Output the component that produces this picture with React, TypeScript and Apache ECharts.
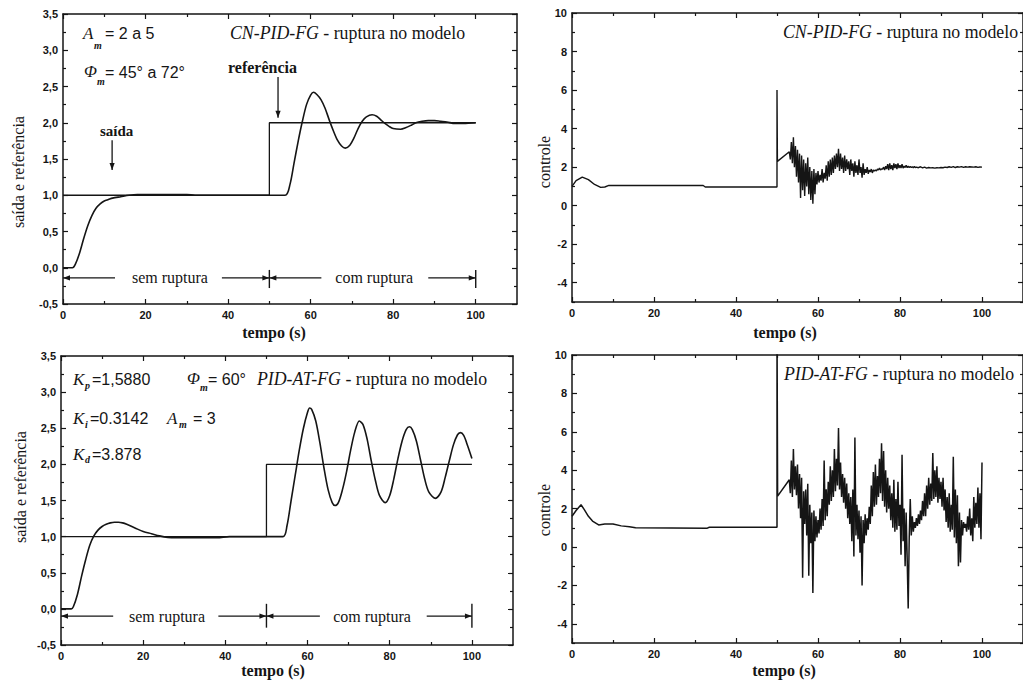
import React, { useEffect, useRef } from "react";
import * as echarts from "echarts";

// ---- axis ticks ----
const timeMajor = [0, 20, 40, 60, 80, 100];
const timeMinor = [10, 30, 50, 70, 90];
const outMajor = [-0.5, 0, 0.5, 1, 1.5, 2, 2.5, 3, 3.5];
const outMinor = [-0.25, 0.25, 0.75, 1.25, 1.75, 2.25, 2.75, 3.25];
const ctlMajor = [-4, -2, 0, 2, 4, 6, 8, 10];
const ctlMinor = [-5, -3, -1, 1, 3, 5, 7, 9];

// ---- reference signal (both output plots) ----
const refTime = [0, 50, 50, 100];
const refValue = [1, 1, 2, 2];

// ---- CN-PID-FG output (saída) ----
const out1Time = [0, 2.3, 3, 4, 5, 6, 7, 8, 9, 10, 11, 12, 14, 16, 18, 30, 32, 53.8, 55, 56, 57, 58, 59, 60, 60.7, 61.5, 62.5, 63.5, 64.5, 65.5, 66.5, 67.5, 68.4, 69.5, 70.5, 71.5, 72.5, 73.5, 74.9, 76, 77, 78, 79, 80, 81.8, 83, 84.5, 85.5, 87, 88.5, 90, 91.5, 93, 95, 97, 100];
const out1Value = [0, 0, 0.05, 0.2, 0.4, 0.58, 0.72, 0.82, 0.88, 0.92, 0.94, 0.96, 0.98, 1.0, 1.01, 1.01, 1.0, 1.0, 1.15, 1.45, 1.75, 2.02, 2.25, 2.38, 2.42, 2.39, 2.32, 2.2, 2.04, 1.89, 1.76, 1.68, 1.65, 1.69, 1.79, 1.92, 2.02, 2.08, 2.11, 2.09, 2.04, 1.99, 1.95, 1.92, 1.91, 1.93, 1.97, 2.0, 2.02, 2.03, 2.03, 2.02, 2.01, 1.99, 1.99, 2.0];

// ---- PID-AT-FG output (saída) ----
const out2Time = [0, 2.5, 3, 4, 5, 6, 7, 8, 9, 10, 11, 12, 13, 14, 15, 16, 18, 20, 22, 24, 26, 28, 38, 41, 54, 55, 56, 57, 58, 59, 60, 60.5, 61, 62, 63, 64, 65, 66, 66.7, 67.5, 68.5, 69.5, 70.5, 71.5, 72.6, 73.5, 74.5, 75.5, 76.5, 77.5, 78.9, 80, 81, 82, 83, 84, 84.8, 85.5, 86.5, 87.5, 88.5, 89.5, 91.1, 92.5, 93.5, 94.5, 95.5, 96.5, 97.2, 98, 99, 100];
const out2Value = [0, 0, 0.03, 0.2, 0.45, 0.68, 0.88, 1.01, 1.09, 1.14, 1.17, 1.19, 1.2, 1.2, 1.19, 1.17, 1.12, 1.07, 1.04, 1.01, 0.99, 0.985, 0.985, 1.0, 1.0, 1.15, 1.5, 1.85, 2.2, 2.5, 2.72, 2.78, 2.76, 2.6, 2.3, 1.95, 1.65, 1.47, 1.43, 1.47, 1.65, 1.9, 2.2, 2.45, 2.6, 2.55, 2.35, 2.05, 1.78, 1.57, 1.47, 1.57, 1.8, 2.08, 2.32, 2.48, 2.52, 2.48, 2.32, 2.06, 1.8, 1.62, 1.53, 1.62, 1.82, 2.05, 2.27, 2.41, 2.44, 2.4, 2.25, 2.08];

// ---- CN-PID-FG control ----
const ctl1Time = [0, 1, 2.5, 4, 5.5, 7, 8, 9, 32, 32.5, 50, 50, 50.1, 53];
const ctl1Value = [1.0, 1.3, 1.48, 1.35, 1.1, 0.95, 0.97, 1.05, 1.05, 0.97, 0.97, 6.0, 2.3, 2.8];
const ctl1NoiseStart = 53.25;
const ctl1NoiseStep = 0.25;
const ctl1Noise = [
  2.4, 3.3, 2.2,
  3.55, 2.0, 3.1, 1.5,
  2.9, 1.2, 2.7, 0.4,
  2.6, 0.8, 2.4, 0.5,
  2.2, 1.0, 2.5, 0.6,
  2.0, 0.3, 1.8, 0.1,
  1.9, 0.6, 1.7, 1.1,
  1.8, 1.2, 1.6, 1.3,
  1.9, 1.2, 1.7, 1.4,
  2.1, 1.3, 2.3, 1.5,
  2.4, 1.6, 2.5, 1.7,
  2.6, 1.9, 2.7, 2.0,
  2.95, 1.8, 2.7, 1.9,
  2.5, 1.7, 2.6, 1.8,
  2.4, 1.9, 2.3, 1.6,
  2.4, 1.8, 2.2, 1.5,
  2.3, 1.7, 2.1, 1.6,
  2.4, 1.7, 2.0, 1.45,
  2.2, 1.6, 1.9, 1.7,
  2.0, 1.65, 1.85, 1.75,
  1.9, 1.7, 1.85, 1.8,
  1.85, 1.8, 1.9, 1.85,
  1.95, 1.85, 1.9, 1.9,
  2.0, 1.85, 2.05, 1.9,
  2.15, 1.85, 2.2, 1.9,
  2.1, 1.85, 2.2, 1.95,
  2.15, 1.9, 2.2, 1.95,
  2.1, 1.95, 2.15, 1.95,
  2.05, 1.98, 2.1, 1.97,
  2.05, 1.98, 2.03, 1.98,
  2.02, 1.97, 2.03, 1.98,
  2.0,
];
const ctl1TailStart = 84.5;
const ctl1TailStep = 0.5;
const ctl1Tail = [1.97, 2.02, 1.96, 2.0, 1.95, 1.98, 1.96, 1.97, 1.95, 1.97, 1.96, 1.98, 1.97, 2.0, 1.98, 2.02, 1.99, 2.03, 1.98, 2.02, 2.0, 2.03, 1.99, 2.02, 2.0, 2.02, 2.01, 2.0, 2.02, 1.99, 2.01, 2.0];

// ---- PID-AT-FG control ----
const ctl2Time = [0, 1, 2.2, 3, 4, 5, 6.5, 8, 10, 12, 14, 15.5, 33, 33.5, 50, 50, 50.15, 53];
const ctl2Value = [1.6, 1.9, 2.2, 1.95, 1.6, 1.35, 1.15, 1.2, 1.2, 1.1, 1.05, 1.0, 0.98, 1.03, 1.03, 12, 2.65, 3.5];
const ctl2NoiseStart = 53.25;
const ctl2NoiseStep = 0.25;
const ctl2Noise = [
  2.8, 4.5, 2.6,
  5.1, 3.0, 4.2, 2.7,
  4.3, 2.0, 3.8, 1.5,
  3.6, -1.6, 2.9, 1.2,
  3.0, 0.6, 3.3, -1.5,
  2.2, 0.2, 1.8, -2.4,
  1.9, 0.3, 1.6, 0.5,
  1.4, 0.7, 2.0, 0.9,
  2.5, 1.1, 4.5, 1.4,
  3.0, 1.6, 3.4, 2.2,
  4.2, 2.4, 4.0, 2.6,
  5.1, 2.9, 4.6, 3.2,
  6.2, 3.0, 4.4, 2.6,
  3.8, 2.3, 3.6, 2.0,
  3.3, 1.5, 2.8, 1.2,
  2.6, 0.3, 3.0, -0.5,
  5.7, 0.6, 2.2, 0.4,
  1.9, -0.3, 1.6, -2.0,
  1.4, 0.2, 1.7, 0.6,
  1.5, 0.9, 2.1, 1.2,
  3.2, 1.6, 3.9, 2.1,
  4.3, 2.2, 3.7, 2.6,
  4.6, 2.8, 5.4, 2.4,
  5.0, 2.1, 4.0, 1.8,
  3.6, 2.0, 3.2, 1.4,
  2.8, 1.0, 3.5, 0.8,
  2.5, 0.9, 3.4, 1.1,
  2.2, -0.4, 4.8, 0.3,
  2.0, -1.0, 1.8, -0.6,
  -3.2, 0.5, 2.5, 0.6,
  1.6, 0.8, 1.3, 1.0,
  1.5, 1.1, 1.7, 1.2,
  1.9, 1.4, 2.4, 1.6,
  2.8, 1.6, 3.2, 2.0,
  3.6, 2.2, 3.3, 2.4,
  4.9, 2.5, 4.0, 2.6,
  4.2, 2.3, 3.6, 2.5,
  3.4, 2.1, 3.6, 1.9,
  3.0, 1.3, 2.6, 1.0,
  2.8, 0.8, 2.2, 0.9,
  4.7, 0.5, 3.0, 0.2,
  2.7, -1.0, 1.8, -0.8,
  1.4, 0.6, 1.3, 1.0,
  1.2, 0.8, 1.6, 0.9,
  2.0, 0.6, 1.5, 0.3,
  2.6, 1.0, 2.3, 1.2,
  3.1, 1.0, 2.8, 0.4,
  4.4,
];

// ---- styling ----
const INK = "#151515";
const SANS = "'Liberation Sans', Arial, sans-serif";
const SERIF = "'Liberation Serif', 'Times New Roman', serif";

const GRIDS = [
  { left: 63, top: 14, width: 454, height: 290 },
  { left: 572, top: 13, width: 455, height: 289 },
  { left: 61, top: 356, width: 452, height: 289 },
  { left: 572, top: 355, width: 455, height: 288 },
];

const zip = (t: number[], v: number[]) => t.map((x, i) => [x, v[i]]);
const sampled = (start: number, step: number, v: number[]) => v.map((y, i) => [start + i * step, y]);

const fmtComma = (v: number) => v.toFixed(1).replace(".", ",");
const fmtInt = (v: number) => String(Math.round(v));

function axisSet(dim: "x" | "y", gi: number, min: number, max: number, interval: number, majors: number[], minors: number[], fmt: (v: number) => string) {
  const [p0, p1] = dim === "x" ? ["bottom", "top"] : ["left", "right"];
  const common = { type: "value", gridIndex: gi, min, max, interval, splitLine: { show: false }, splitArea: { show: false } };
  const line = { show: true, onZero: false, lineStyle: { color: INK, width: 1.5 } };
  const noLine = { show: false, onZero: false };
  const tick = (vals: number[], len: number) => ({ show: true, inside: true, length: len, customValues: vals, lineStyle: { color: INK, width: 1.2 } });
  return [
    {
      ...common, position: p0, axisLine: line, axisTick: tick(majors, 5),
      axisLabel: { show: true, customValues: majors, formatter: fmt, color: INK, fontFamily: SANS, fontWeight: "bold", fontSize: 11, margin: 5 },
    },
    { ...common, position: p0, axisLine: noLine, axisTick: tick(minors, 3), axisLabel: { show: false } },
    { ...common, position: p1, axisLine: line, axisTick: tick(majors, 5), axisLabel: { show: false } },
    { ...common, position: p1, axisLine: noLine, axisTick: tick(minors, 3), axisLabel: { show: false } },
  ];
}

function lineSeries(gi: number, data: number[][], width: number, smooth: number | boolean) {
  return {
    type: "line", xAxisIndex: 4 * gi, yAxisIndex: 4 * gi, data, showSymbol: false, symbol: "none",
    smooth, lineStyle: { color: INK, width }, silent: true, clip: true,
  };
}

function buildOption() {
  const xAxis: any[] = [];
  const yAxis: any[] = [];
  for (let g = 0; g < 4; g++) {
    xAxis.push(...axisSet("x", g, 0, 110, 10, timeMajor, timeMinor, fmtInt));
    if (g % 2 === 0) yAxis.push(...axisSet("y", g, -0.5, 3.5, 0.25, outMajor, outMinor, fmtComma));
    else yAxis.push(...axisSet("y", g, -5, 10, 1, ctlMajor, ctlMinor, fmtInt));
  }
  const ctl1 = [...zip(ctl1Time, ctl1Value), ...sampled(ctl1NoiseStart, ctl1NoiseStep, ctl1Noise), ...sampled(ctl1TailStart, ctl1TailStep, ctl1Tail)];
  const ctl2 = [...zip(ctl2Time, ctl2Value), ...sampled(ctl2NoiseStart, ctl2NoiseStep, ctl2Noise)];
  return {
    animation: false,
    backgroundColor: "#ffffff",
    grid: GRIDS.map((g) => ({ ...g, containLabel: false })),
    xAxis,
    yAxis,
    series: [
      lineSeries(0, zip(refTime, refValue), 1.3, false),
      lineSeries(0, zip(out1Time, out1Value), 1.6, 0.3),
      lineSeries(1, ctl1, 1.4, false),
      lineSeries(2, zip(refTime, refValue), 1.3, false),
      lineSeries(2, zip(out2Time, out2Value), 1.6, 0.3),
      lineSeries(3, ctl2, 1.5, false),
    ],
  };
}

// annotation rows (data coordinates)
const ROWS = [
  { g: 0, y: -0.14, barTop: -0.03, barBot: -0.28, segs: [[0, 12.6], [38.5, 50], [50, 62.6], [88.5, 100]], labels: [[25.9, "sem ruptura"], [75.4, "com ruptura"]] },
  { g: 2, y: -0.1, barTop: 0.07, barBot: -0.26, segs: [[0, 12.7], [38.3, 50], [50, 63], [89, 100]], labels: [[25.8, "sem ruptura"], [75.7, "com ruptura"]] },
];

function buildGraphics(chart: any) {
  const P = (g: number, t: number, v: number) => chart.convertToPixel({ xAxisIndex: 4 * g, yAxisIndex: 4 * g }, [t, v]) as number[];
  const els: any[] = [];
  const seg = (a: number[], b: number[], w = 1.2) =>
    els.push({ type: "line", silent: true, shape: { x1: a[0], y1: a[1], x2: b[0], y2: b[1] }, style: { stroke: INK, lineWidth: w } });
  const head = (tip: number[], dir: string) => {
    const L = 7, H = 2.6;
    const [x, y] = tip;
    let pts: number[][];
    if (dir === "l") pts = [[x, y], [x + L, y - H], [x + L, y + H]];
    else if (dir === "r") pts = [[x, y], [x - L, y - H], [x - L, y + H]];
    else pts = [[x, y], [x - H, y - L], [x + H, y - L]];
    els.push({ type: "polygon", silent: true, shape: { points: pts }, style: { fill: INK } });
  };
  const txt = (x: number, y: number, text: string, st: any) =>
    els.push({ type: "text", silent: true, x, y, style: { text, fill: INK, align: "left", verticalAlign: "middle", ...st } });

  // rows "sem ruptura / com ruptura"
  for (const r of ROWS) {
    r.segs.forEach((s, i) => {
      const a = P(r.g, s[0], r.y);
      const b = P(r.g, s[1], r.y);
      seg(a, b);
      if (i % 2 === 0) head(a, "l");
      else head(b, "r");
    });
    for (const t of [50, 100]) seg(P(r.g, t, r.barTop), P(r.g, t, r.barBot), 1.4);
    for (const [t, label] of r.labels as [number, string][]) {
      const p = P(r.g, t, r.y);
      txt(p[0], p[1], label, { align: "center", fontFamily: SERIF, fontSize: 16 });
    }
  }

  // pointer arrows (top-left)
  const refA = P(0, 52.1, 2.63), refB = P(0, 52.1, 2.07);
  seg(refA, refB, 1.3); head(refB, "d");
  const outA = P(0, 11.9, 1.76), outB = P(0, 11.9, 1.35);
  seg(outA, outB, 1.3); head(outB, "d");
  txt(228, 67, "referência", { fontFamily: SERIF, fontSize: 16, fontWeight: "bold" });
  txt(100, 131, "saída", { fontFamily: SERIF, fontSize: 15, fontWeight: "bold" });

  // titles
  const title = (x: number, y: number, it: string) =>
    els.push({
      type: "text", silent: true, x, y,
      style: {
        text: `{i|${it}} - ruptura no modelo`, fill: INK, fontFamily: SERIF, fontSize: 17.8, verticalAlign: "middle", align: "left",
        rich: { i: { fontStyle: "italic", fontFamily: SERIF, fontSize: 17.8, fill: INK } },
      },
    });
  title(230, 33, "CN-PID-FG");
  title(783, 32, "CN-PID-FG");
  title(257, 379, "PID-AT-FG");
  title(784, 374, "PID-AT-FG");

  const varSt = { fontFamily: SERIF, fontSize: 17, fontStyle: "italic" };
  const subSt = { fontFamily: SERIF, fontSize: 10, fontStyle: "italic", fontWeight: "bold" };
  const numSt = { fontFamily: SANS, fontSize: 16 };

  // top-left parameters
  txt(83, 33, "A", varSt); txt(94, 45, "m", subSt); txt(105, 33, "= 2 a 5", numSt);
  txt(84, 71, "Φ", varSt); txt(97, 81, "m", subSt); txt(105, 72, "= 45° a 72°", numSt);

  // bottom-left parameters
  txt(73, 379, "K", varSt); txt(85, 385, "p", subSt); txt(92, 379, "=1,5880", numSt);
  txt(187, 378, "Φ", varSt); txt(200, 387, "m", subSt); txt(208, 379, "= 60°", numSt);
  txt(73, 418, "K", varSt); txt(85, 424, "i", subSt); txt(90, 418, "=0.3142", numSt);
  txt(167, 418, "A", varSt); txt(179, 424, "m", subSt); txt(193, 418, "= 3", numSt);
  txt(73, 454, "K", varSt); txt(85, 459, "d", subSt); txt(92, 454, "=3.878", numSt);

  // axis titles
  const xt = { align: "center", fontFamily: SERIF, fontSize: 16, fontWeight: "bold" };
  txt(274, 332, "tempo (s)", xt);
  txt(785, 332, "tempo (s)", xt);
  txt(273, 670, "tempo (s)", xt);
  txt(784, 670, "tempo (s)", xt);
  const yt = (x: number, y: number, text: string) =>
    els.push({ type: "text", silent: true, x, y, rotation: Math.PI / 2, style: { text, fill: INK, align: "center", verticalAlign: "middle", fontFamily: SERIF, fontSize: 16 } });
  yt(18, 172, "saída e referência");
  yt(544, 162, "controle");
  yt(20, 487, "saída e referência");
  yt(544, 510, "controle");

  return els;
}

export default function App() {
  const ref = useRef<HTMLDivElement>(null);
  useEffect(() => {
    const el = ref.current;
    if (!el) return;
    const chart = echarts.init(el, null, { renderer: "svg" });
    chart.setOption(buildOption() as any);
    chart.setOption({ graphic: buildGraphics(chart) } as any);
    return () => chart.dispose();
  }, []);
  return (
    <div
      ref={ref}
      style={{ position: "fixed", left: 0, top: 0, width: 1023, height: 682, background: "#fff", overflow: "hidden" }}
    />
  );
}
